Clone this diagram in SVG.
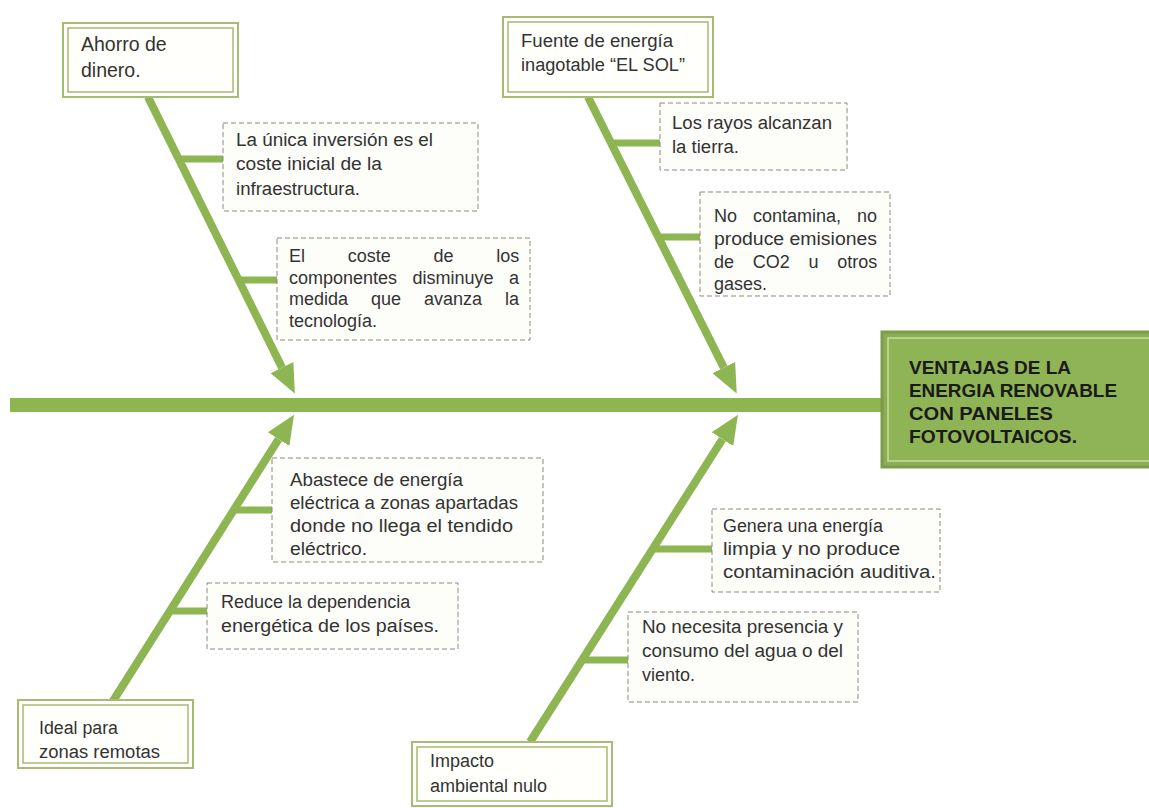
<svg xmlns="http://www.w3.org/2000/svg" width="1149" height="808" viewBox="0 0 1149 808">
<style>
.t{font-family:"Liberation Sans",Arial,sans-serif;font-size:18px;fill:#333}
.tt{font-family:"Liberation Sans",Arial,sans-serif;font-size:18.5px;font-weight:bold;fill:#1a1a1a}
.dash{fill:#fdfdf9;stroke:#8a8a7a;stroke-width:1;stroke-dasharray:5 3}
.dbo{fill:#fff;stroke:#a7bb72;stroke-width:2}
.dbi{fill:#fffffb;stroke:#a7bb72;stroke-width:1.5}
.bone{stroke:#8db552;stroke-width:8;fill:none}
.stub{stroke:#8db552;stroke-width:7;fill:none}
</style>
<defs>
<marker id="ah" markerUnits="userSpaceOnUse" markerWidth="30" markerHeight="30" viewBox="0 -12 26 24" refX="0" refY="0" orient="auto">
<path d="M0,-11 L25,0 L0,11 z" fill="#8db552"/>
</marker>
</defs>
<rect width="1149" height="808" fill="#fff"/>
<g id="connectors">
<line x1="10" y1="405" x2="882" y2="405" stroke="#8db552" stroke-width="14"/>
<line class="bone" x1="148" y1="97" x2="282" y2="367.6" marker-end="url(#ah)"/>
<line class="bone" x1="588" y1="97" x2="723.8" y2="367.6" marker-end="url(#ah)"/>
<line class="bone" x1="113" y1="701" x2="278.6" y2="439.1" marker-end="url(#ah)"/>
<line class="bone" x1="530" y1="742" x2="722.5" y2="439.1" marker-end="url(#ah)"/>
<line class="stub" x1="180" y1="159" x2="224" y2="159"/>
<line class="stub" x1="238" y1="280" x2="277" y2="280"/>
<line class="stub" x1="611" y1="143" x2="660" y2="143"/>
<line class="stub" x1="658" y1="237" x2="700" y2="237"/>
<line class="stub" x1="233" y1="510" x2="272" y2="510"/>
<line class="stub" x1="170" y1="611" x2="207" y2="611"/>
<line class="stub" x1="652" y1="549" x2="712" y2="549"/>
<line class="stub" x1="582" y1="660" x2="628" y2="660"/>
</g>
<g id="title">
<rect x="882" y="332" width="270" height="135" fill="#8aae52" stroke="#7d9c4a" stroke-width="3"/>
<rect x="888" y="338" width="262" height="123" fill="#8fb456" stroke="#c9dda0" stroke-width="1.5"/>
<text class="tt" x="909" y="374" textLength="162" lengthAdjust="spacingAndGlyphs">VENTAJAS DE LA</text>
<text class="tt" x="909" y="397" textLength="208" lengthAdjust="spacingAndGlyphs">ENERGIA RENOVABLE</text>
<text class="tt" x="909" y="420" textLength="144" lengthAdjust="spacingAndGlyphs">CON PANELES</text>
<text class="tt" x="909" y="443" textLength="168" lengthAdjust="spacingAndGlyphs">FOTOVOLTAICOS.</text>
</g>
<g id="ahorro">
<rect class="dbo" x="63" y="23" width="175" height="74"/>
<rect class="dbi" x="68" y="28" width="165" height="64"/>
<text class="t" x="81" y="51" style="font-size:19.5px">Ahorro de</text>
<text class="t" x="81" y="77" style="font-size:19.5px">dinero.</text>
</g>
<g id="fuente">
<rect class="dbo" x="503" y="17" width="210" height="80"/>
<rect class="dbi" x="508" y="22" width="200" height="70"/>
<text class="t" x="521" y="47" textLength="152" lengthAdjust="spacingAndGlyphs">Fuente de energía</text>
<text class="t" x="521" y="71" textLength="164" lengthAdjust="spacingAndGlyphs">inagotable “EL SOL”</text>
</g>
<g id="ideal">
<rect class="dbo" x="18" y="700" width="175" height="68"/>
<rect class="dbi" x="23" y="705" width="165" height="58"/>
<text class="t" x="39" y="734" textLength="79" lengthAdjust="spacingAndGlyphs">Ideal para</text>
<text class="t" x="39" y="758" textLength="121" lengthAdjust="spacingAndGlyphs">zonas remotas</text>
</g>
<g id="impacto">
<rect class="dbo" x="412" y="742" width="200" height="64"/>
<rect class="dbi" x="417" y="747" width="190" height="54"/>
<text class="t" x="430" y="767">Impacto</text>
<text class="t" x="430" y="792">ambiental nulo</text>
</g>
<g id="unica">
<rect class="dash" x="223" y="123" width="255" height="88"/>
<text class="t" x="236" y="146" textLength="197" lengthAdjust="spacingAndGlyphs">La única inversión es el</text>
<text class="t" x="236" y="170" textLength="146" lengthAdjust="spacingAndGlyphs">coste inicial de la</text>
<text class="t" x="236" y="195" textLength="124" lengthAdjust="spacingAndGlyphs">infraestructura.</text>
</g>
<g id="coste">
<rect class="dash" x="277" y="238" width="253" height="102"/>
<text class="t" x="289" y="262" word-spacing="37.7">El coste de los</text>
<text class="t" x="289" y="284" word-spacing="10.5">componentes disminuye a</text>
<text class="t" x="289" y="305" word-spacing="18">medida que avanza la</text>
<text class="t" x="289" y="327">tecnología.</text>
</g>
<g id="rayos">
<rect class="dash" x="660" y="103" width="187" height="67"/>
<text class="t" x="672" y="129" textLength="160" lengthAdjust="spacingAndGlyphs">Los rayos alcanzan</text>
<text class="t" x="672" y="153" textLength="67" lengthAdjust="spacingAndGlyphs">la tierra.</text>
</g>
<g id="contamina">
<rect class="dash" x="700" y="192" width="190" height="104"/>
<text class="t" x="714" y="222" word-spacing="11">No contamina, no</text>
<text class="t" x="714" y="245" textLength="163" lengthAdjust="spacingAndGlyphs">produce emisiones</text>
<text class="t" x="714" y="268" word-spacing="13.7">de CO2 u otros</text>
<text class="t" x="714" y="290">gases.</text>
</g>
<g id="abastece">
<rect class="dash" x="272" y="458" width="271" height="104"/>
<text class="t" x="290" y="486" textLength="173" lengthAdjust="spacingAndGlyphs">Abastece de energía</text>
<text class="t" x="290" y="509" textLength="228" lengthAdjust="spacingAndGlyphs">eléctrica a zonas apartadas</text>
<text class="t" x="290" y="532" textLength="223" lengthAdjust="spacingAndGlyphs">donde no llega el tendido</text>
<text class="t" x="290" y="555" textLength="77" lengthAdjust="spacingAndGlyphs">eléctrico.</text>
</g>
<g id="reduce">
<rect class="dash" x="207" y="583" width="251" height="66"/>
<text class="t" x="221" y="608">Reduce la dependencia</text>
<text class="t" x="221" y="632" textLength="218" lengthAdjust="spacingAndGlyphs">energética de los países.</text>
</g>
<g id="genera">
<rect class="dash" x="712" y="509" width="228" height="83"/>
<text class="t" x="723" y="532" textLength="160" lengthAdjust="spacingAndGlyphs">Genera una energía</text>
<text class="t" x="723" y="555" textLength="177" lengthAdjust="spacingAndGlyphs">limpia y no produce</text>
<text class="t" x="723" y="578" textLength="213" lengthAdjust="spacingAndGlyphs">contaminación auditiva.</text>
</g>
<g id="necesita">
<rect class="dash" x="628" y="612" width="230" height="90"/>
<text class="t" x="642" y="633" textLength="201" lengthAdjust="spacingAndGlyphs">No necesita presencia y</text>
<text class="t" x="642" y="657" textLength="201" lengthAdjust="spacingAndGlyphs">consumo del agua o del</text>
<text class="t" x="642" y="681">viento.</text>
</g>
</svg>
